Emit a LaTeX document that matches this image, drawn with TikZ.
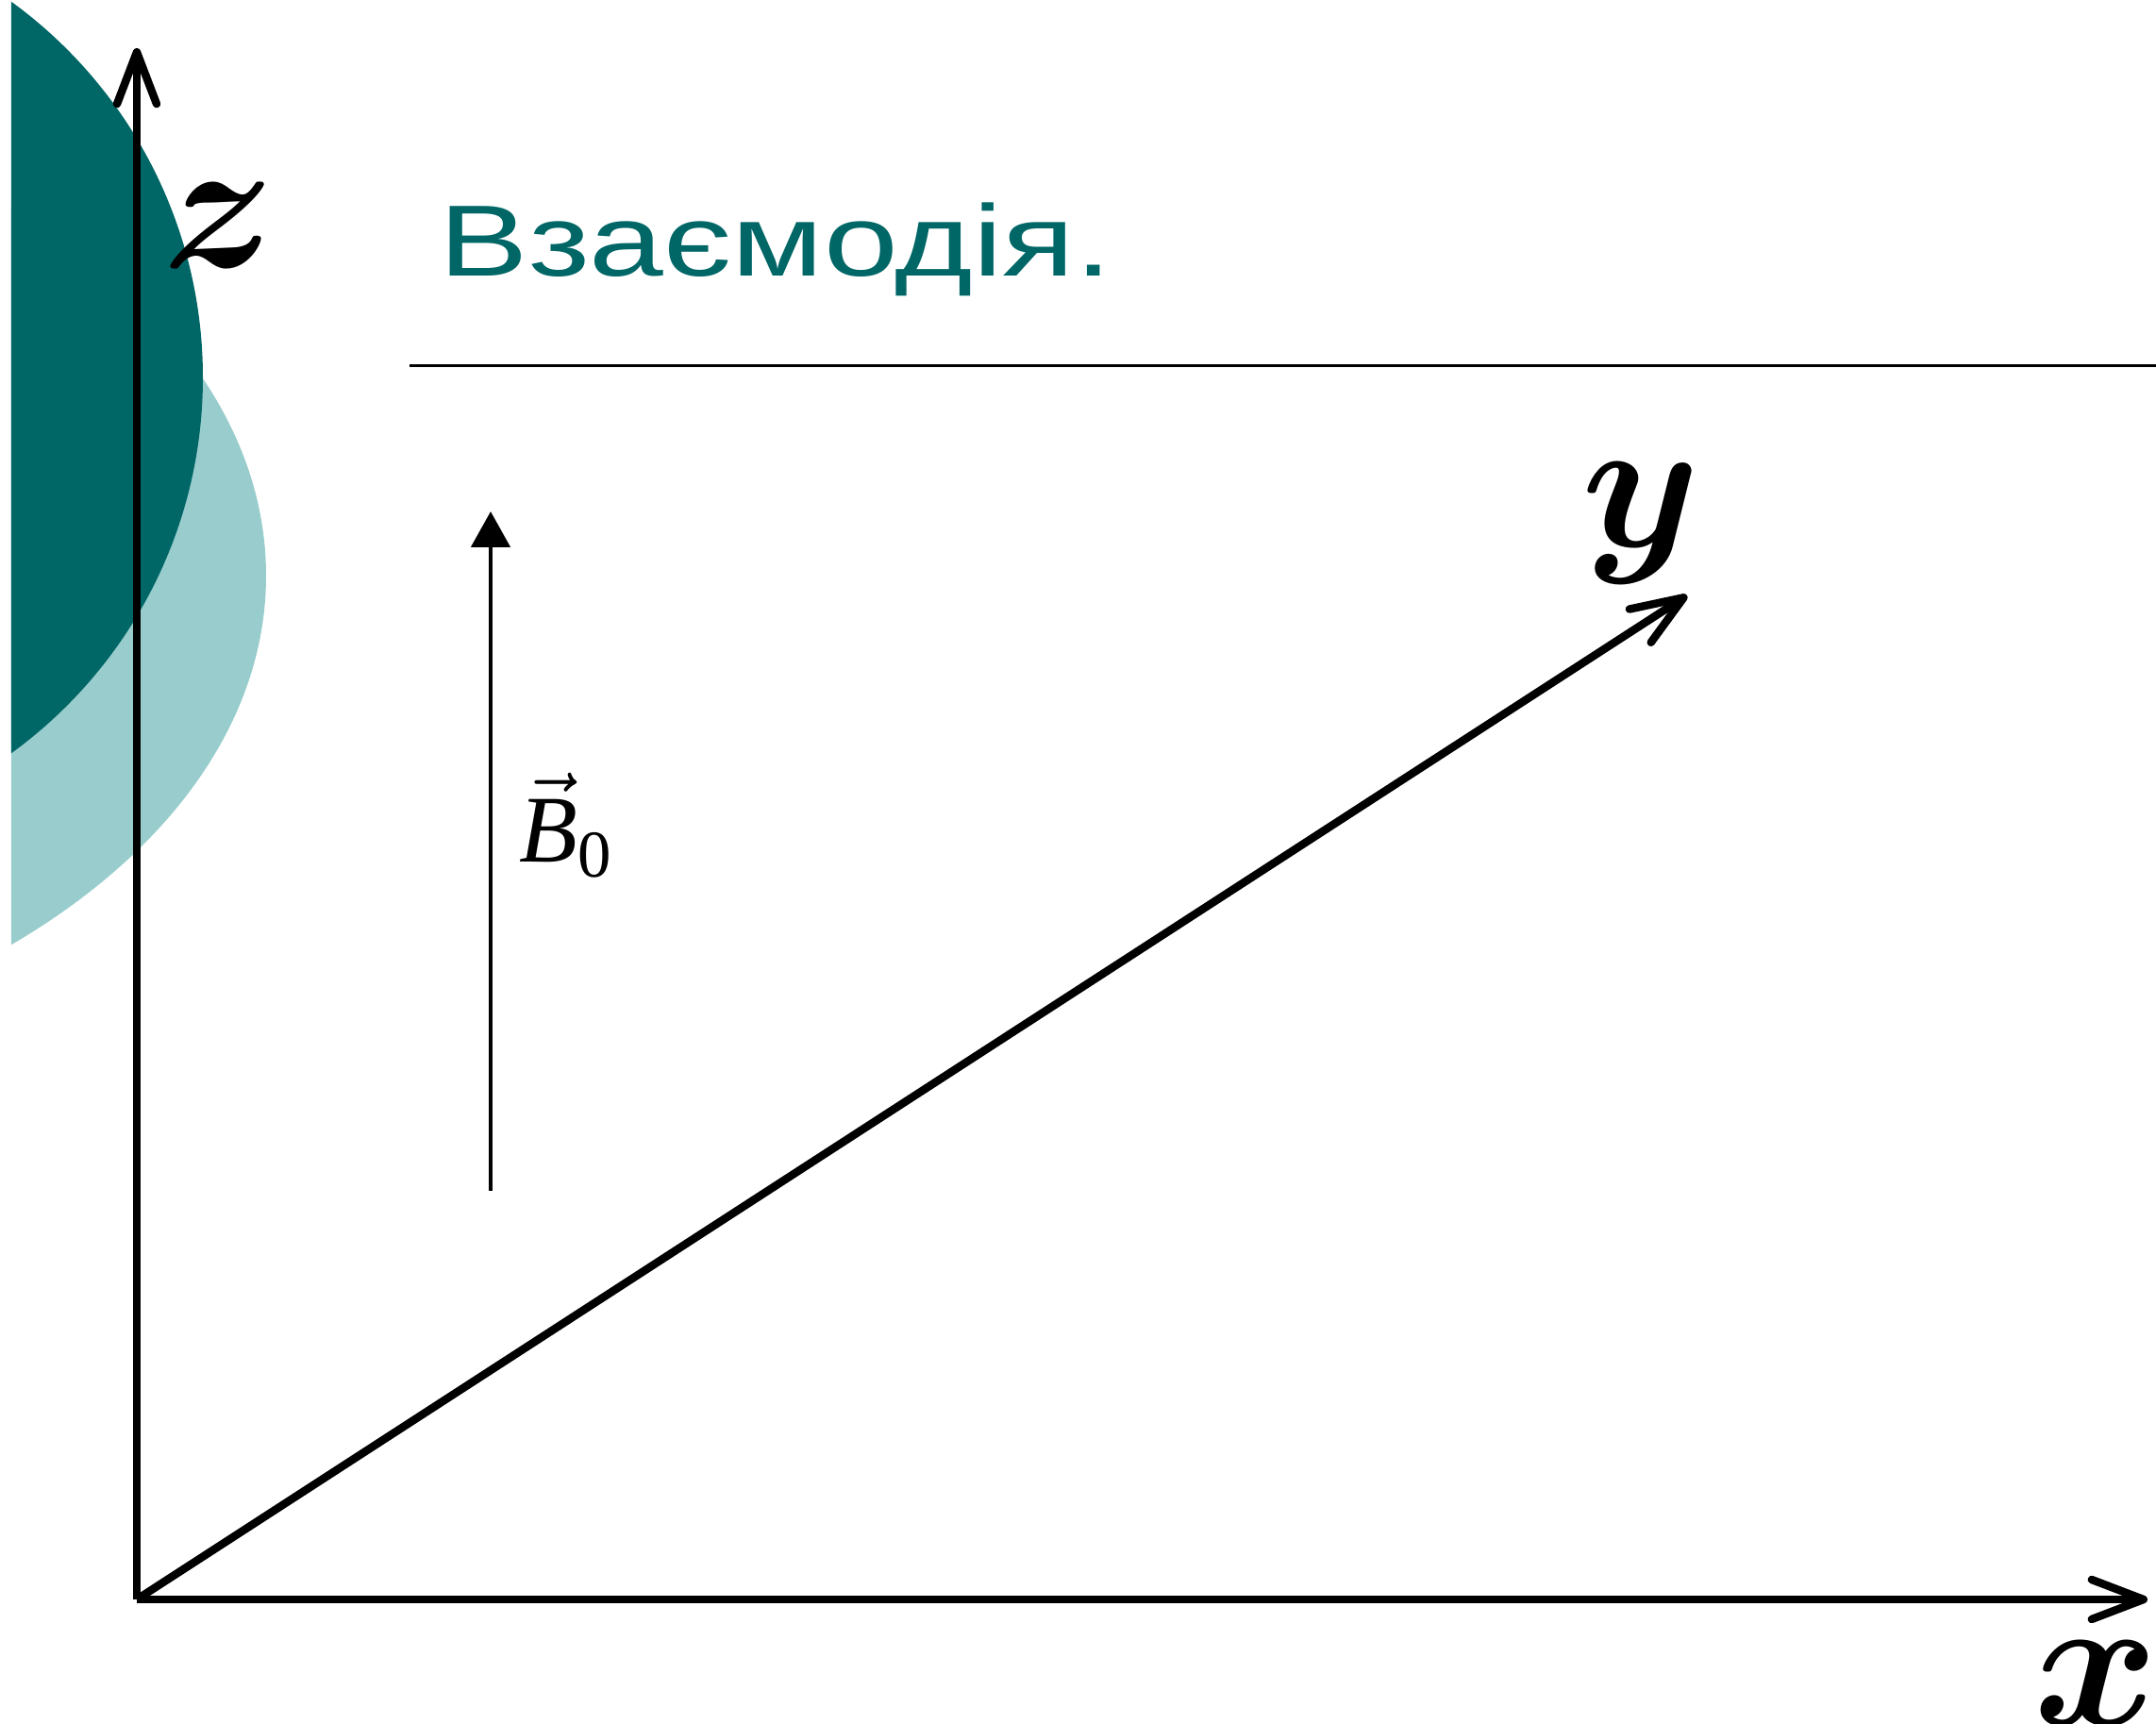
\documentclass[tikz,border=0pt]{standalone}
\usepackage{fontspec}
\usepackage{amsmath}
\setmainfont{Liberation Serif}
\newfontfamily\titlefont[FakeStretch=1.32]{Liberation Sans}
\usetikzlibrary{arrows.meta}
\definecolor{tealdark}{RGB}{0,102,102}
\definecolor{teallight}{RGB}{153,204,204}
\newcommand{\biglbl}[1]{\scalebox{5.7}{$\boldsymbol{#1}$}}

\begin{document}
\begin{tikzpicture}[
  axis/.style={line width=2.4pt, -{Straight Barb[length=0.55cm, width=0.42cm, round]}},
  field/.style={line width=1.4pt, -{Triangle[length=0.38cm, width=0.41cm]}},
  rule/.style={line width=0.85pt},
  axlbl/.style={inner sep=0pt},
  fieldlbl/.style={inner sep=0pt},
  title/.style={font=\titlefont\fontsize{30.5}{34}\selectfont, text=tealdark, inner sep=0pt},
]
\useasboundingbox (0,0) rectangle (22.85,18.26);

% Backdrop
\begin{scope}
  \clip (0.12,0) rectangle (22.85,18.26);
  \fill[teallight] (-5.48,12.16) ellipse [x radius=8.30, y radius=5.30];
  \fill[tealdark] (-2.77,14.26) circle [radius=4.92];
\end{scope}

% Title
\node[title, anchor=base west] (title) at (4.65,15.33) {Взаємодія.};
\coordinate (ruleL) at (4.34,14.38);
\coordinate (ruleR) at (22.85,14.38);
\draw[rule] (ruleL) -- (ruleR);

% Axes
\coordinate (O) at (1.45,1.31);
\coordinate (ztip) at (1.45,17.75);
\coordinate (xtip) at (22.76,1.31);
\coordinate (ytip) at (17.88,11.95);
\draw[axis] (O) -- (ztip);
\draw[axis] (O) -- (xtip);
\draw[axis] (O) -- (ytip);

\node[axlbl, anchor=base west] (lblz) at (1.72,15.42) {\biglbl{z}};
\node[axlbl, anchor=base west] (lbly) at (16.76,12.46) {\biglbl{y}};
\node[axlbl, anchor=base west] (lblx) at (21.55,-0.02) {\biglbl{x}};

% Field
\coordinate (Bfoot) at (5.20,5.64);
\coordinate (Btip) at (5.20,12.84);
\draw[field] (Bfoot) -- (Btip);
\node[fieldlbl, anchor=base west] (lblB) at (5.50,9.12) {\scalebox{2.88}{$\vec{\textit{B}}_{\text{0}}$}};

\end{tikzpicture}
\end{document}
